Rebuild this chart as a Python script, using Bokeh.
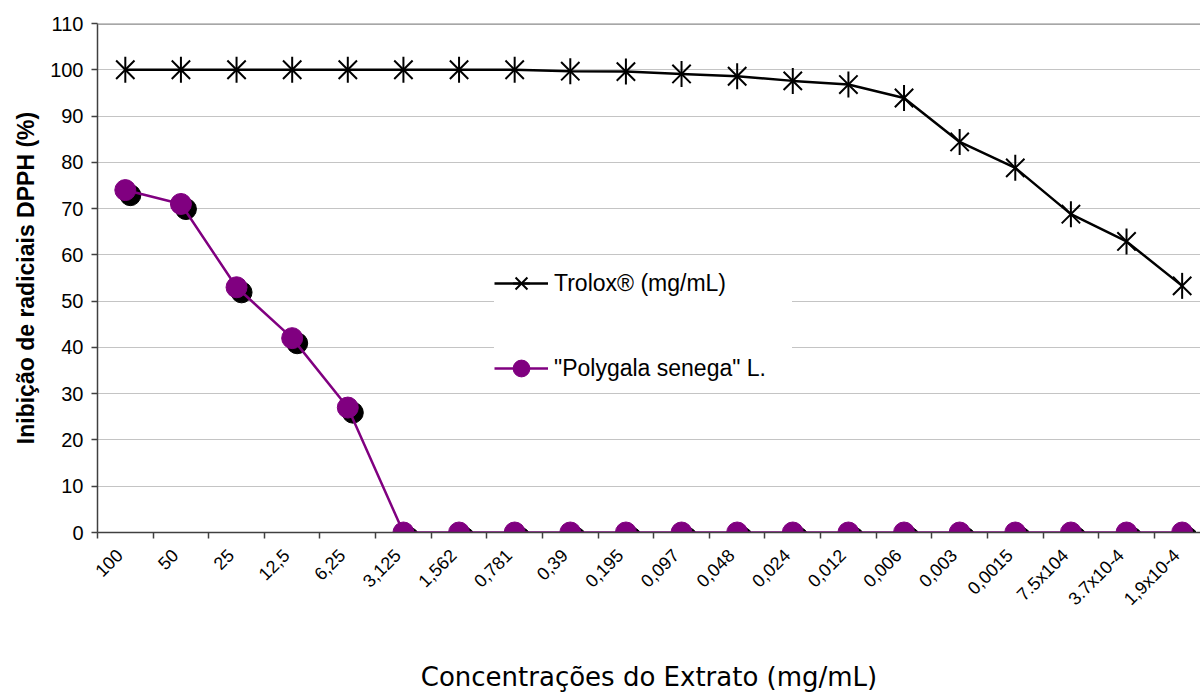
import math

from bokeh.embed import file_html
from bokeh.models import ColumnDataSource, FixedTicker, Legend, LegendItem, Range1d, Span
from bokeh.plotting import figure
from bokeh.resources import INLINE
from bokeh.transform import dodge

# Extract concentrations (mg/mL), as printed on the x axis
concentrations = [
    "100", "50", "25", "12,5", "6,25", "3,125", "1,562", "0,781", "0,39", "0,195",
    "0,097", "0,048", "0,024", "0,012", "0,006", "0,003", "0,0015", "7.5x104",
    "3.7x10-4", "1,9x10-4",
]

# DPPH radical inhibition (%)
trolox = [
    100, 100, 100, 100, 100, 100, 100, 100, 99.7, 99.6,
    99.1, 98.6, 97.6, 96.8, 93.9, 84.4, 78.8, 68.8, 62.9, 53.3,
]
polygala = [
    74, 71, 53, 42, 27, 0, 0, 0, 0, 0,
    0, 0, 0, 0, 0, 0, 0, 0, 0, 0,
]

y_ticks = list(range(0, 111, 10))

FONT = "Liberation Sans"

# categories sit in the middle of unit-wide slots; tick marks go on the slot edges
pos = [i + 0.5 for i in range(len(concentrations))]
# rotated labels hang with their upper corner at the slot centre
label_pos = [c - 0.1 for c in pos]
source = ColumnDataSource(dict(x=pos, trolox=trolox, polygala=polygala))

p = figure(
    width=1200, height=695,
    x_range=Range1d(0, 19.83), y_range=Range1d(0, 110),
    output_backend="svg", toolbar_location=None,
    min_border_left=97, min_border_right=0, min_border_top=23, min_border_bottom=163,
)
p.outline_line_color = None
p.background_fill_color = "white"
p.border_fill_color = "white"

# axes
p.xaxis.ticker = FixedTicker(ticks=label_pos, minor_ticks=list(range(0, 21)))
p.xaxis.major_label_overrides = {pt: lab for pt, lab in zip(label_pos, concentrations)}
p.xaxis.major_label_orientation = math.pi / 4
p.xaxis.major_tick_line_color = None
p.xaxis.minor_tick_line_color = "#404040"
p.xaxis.minor_tick_line_width = 1.5
p.xaxis.minor_tick_out = 6
p.xaxis.minor_tick_in = 0
p.xaxis.major_label_text_font = FONT
p.xaxis.major_label_text_font_size = "18px"
p.xaxis.major_label_text_color = "black"
p.xaxis.major_label_standoff = 14
p.xaxis.axis_line_color = "#404040"
p.xaxis.axis_line_width = 1.5
p.xaxis.axis_label = "Concentrações do Extrato (mg/mL)"
p.xaxis.axis_label_text_font = "DejaVu Sans"
p.xaxis.axis_label_text_font_style = "normal"
p.xaxis.axis_label_text_font_size = "26px"
p.xaxis.axis_label_text_color = "black"
p.xaxis.axis_label_standoff = 43

p.yaxis.ticker = FixedTicker(ticks=y_ticks, minor_ticks=[])
p.yaxis.major_tick_line_color = "#404040"
p.yaxis.major_tick_line_width = 1.5
p.yaxis.major_tick_out = 6
p.yaxis.major_tick_in = 0
p.yaxis.major_label_text_font = FONT
p.yaxis.major_label_text_font_size = "20px"
p.yaxis.major_label_text_color = "black"
p.yaxis.major_label_standoff = 8
p.yaxis.axis_line_color = "#404040"
p.yaxis.axis_line_width = 1.5
p.yaxis.axis_label = "Inibição de radiciais DPPH (%)"
p.yaxis.axis_label_text_font = FONT
p.yaxis.axis_label_text_font_style = "bold"
p.yaxis.axis_label_text_font_size = "23px"
p.yaxis.axis_label_text_color = "black"
p.yaxis.axis_label_standoff = 8

# grid
p.xgrid.grid_line_color = None
p.ygrid.ticker = FixedTicker(ticks=y_ticks)
p.ygrid.grid_line_color = "#c4c4c4"
p.ygrid.grid_line_width = 1
p.add_layout(Span(location=110, dimension="width", line_color="#8a8a8a", line_width=2.5))

# Trolox: black line with star markers (cross of an x and a vertical bar)
t_line = p.line("x", "trolox", source=source, line_color="black", line_width=2.5)
t_x = p.scatter("x", "trolox", source=source, marker="x", size=26,
                line_color="black", line_width=2)
t_bar = p.scatter("x", "trolox", source=source, marker="dash", angle=math.pi / 2,
                  size=26, line_color="black", line_width=2)

# Polygala senega: purple line with round markers and a dark drop shadow
p_shadow = p.scatter(dodge("x", 0.09), dodge("polygala", -1.1), source=source,
                     marker="circle", size=21, fill_color="black", line_color="black")
p_line = p.line("x", "polygala", source=source, line_color="#800080", line_width=2.5)
p_dot = p.scatter("x", "polygala", source=source, marker="circle", size=21,
                  fill_color="#800080", line_color="#800080")

legend = Legend(
    items=[
        LegendItem(label="Trolox® (mg/mL)", renderers=[t_line, t_x, t_bar]),
        LegendItem(label="\"Polygala senega\" L.", renderers=[p_line, p_dot]),
    ],
    location=(397, 143),
    orientation="vertical",
    glyph_width=54, glyph_height=42,
    label_height=42, label_width=238,
    label_standoff=6,
    spacing=43, padding=6, margin=0,
    label_text_font=FONT, label_text_font_size="23px", label_text_color="black",
    border_line_color=None,
    background_fill_color="white", background_fill_alpha=1.0,
)
p.add_layout(legend, "center")

open("out.html", "w").write(file_html(p, INLINE))
